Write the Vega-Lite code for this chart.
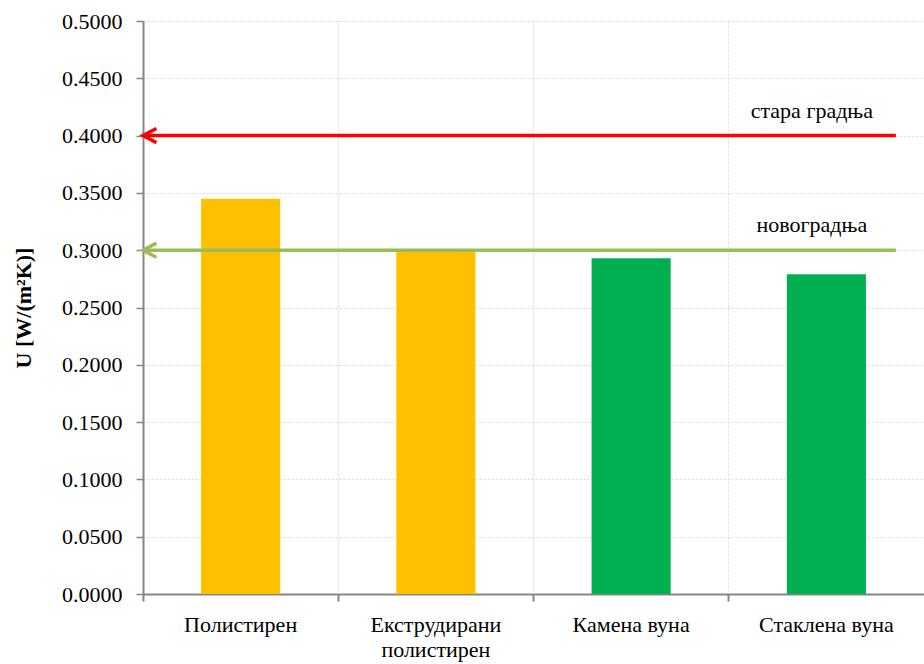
{
  "$schema": "https://vega.github.io/schema/vega-lite/v6.json",
  "width": 781,
  "height": 573,
  "autosize": "none",
  "padding": {"left": 143, "top": 21, "right": 0, "bottom": 70},
  "background": "white",
  "config": {
    "view": {"stroke": null},
    "font": "'Liberation Serif', 'Times New Roman', serif"
  },
  "datasets": {
    "bars": [
      {"material": "Полистирен", "U": 0.345, "group": "a"},
      {"material": "Екструдирани полистирен", "U": 0.300, "group": "a"},
      {"material": "Камена вуна", "U": 0.293, "group": "b"},
      {"material": "Стаклена вуна", "U": 0.279, "group": "b"}
    ],
    "lines": [
      {"name": "стара градња", "U": 0.4, "start": 0, "end": 0.964},
      {"name": "новоградња", "U": 0.3, "start": 0, "end": 0.964}
    ]
  },
  "layer": [
    {
      "data": {"name": "bars"},
      "mark": {"type": "bar", "width": {"band": 0.405}},
      "encoding": {
        "x": {
          "field": "material", "type": "nominal", "sort": null,
          "scale": {"paddingInner": 0, "paddingOuter": 0},
          "axis": {
            "title": null, "labelAngle": 0, "bandPosition": 0,
            "labelFont": "'Liberation Serif', 'Times New Roman', serif", "labelFontSize": 22, "labelColor": "black",
            "labelPadding": 13, "labelBaseline": "top", "labelLineHeight": 25,
            "labelExpr": "datum.label == 'Екструдирани полистирен' ? ['Екструдирани', 'полистирен'] : datum.label",
            "domainColor": "#868686", "domainWidth": 2,
            "tickColor": "#868686", "tickSize": 7, "tickWidth": 2,
            "grid": true, "gridColor": "#d9d9d9", "gridDash": [2, 2], "gridWidth": 1
          }
        },
        "y": {
          "field": "U", "type": "quantitative",
          "scale": {"domain": [0, 0.5], "nice": false},
          "axis": {
            "title": "U [W/(m²K)]", "titleFont": "'Liberation Serif', 'Times New Roman', serif", "titleFontSize": 22,
            "titleFontWeight": "bold", "titleColor": "black", "titlePadding": 26,
            "values": [0, 0.05, 0.1, 0.15, 0.2, 0.25, 0.3, 0.35, 0.4, 0.45, 0.5],
            "format": ".4f",
            "labelFont": "'Liberation Serif', 'Times New Roman', serif", "labelFontSize": 22, "labelColor": "black",
            "labelPadding": 14,
            "domainColor": "#868686", "domainWidth": 2,
            "tickColor": "#868686", "tickSize": 7, "tickWidth": 1.5,
            "grid": true, "gridColor": "#d9d9d9", "gridDash": [2, 2], "gridWidth": 1
          }
        },
        "color": {
          "field": "group", "type": "nominal",
          "scale": {"domain": ["a", "b"], "range": ["#FFC000", "#00B050"]},
          "legend": null
        }
      }
    },
    {
      "data": {"name": "lines"},
      "layer": [
        {
          "mark": {"type": "rule", "strokeWidth": 3.5},
          "encoding": {
            "x": {"field": "start", "type": "quantitative", "scale": {"domain": [0, 1], "nice": false}, "axis": null},
            "x2": {"field": "end"},
            "y": {"field": "U", "type": "quantitative"},
            "color": {"field": "name", "type": "nominal", "scale": {"domain": ["стара градња", "новоградња"], "range": ["#FF0000", "#9BBB59"]}, "legend": null}
          }
        },
        {
          "mark": {"type": "point", "shape": "M1.9,-1 L0,0 L1.9,1", "size": 200, "filled": false, "strokeWidth": 3.5, "opacity": 1},
          "encoding": {
            "x": {"field": "start", "type": "quantitative", "scale": {"domain": [0, 1], "nice": false}, "axis": null},
            "y": {"field": "U", "type": "quantitative"},
            "color": {"field": "name", "type": "nominal", "scale": {"domain": ["стара градња", "новоградња"], "range": ["#FF0000", "#9BBB59"]}, "legend": null}
          }
        },
        {
          "mark": {"type": "text", "font": "'Liberation Serif', 'Times New Roman', serif", "fontSize": 22, "color": "black", "align": "center", "baseline": "middle", "dx": -84, "dy": -25},
          "encoding": {
            "x": {"field": "end", "type": "quantitative", "scale": {"domain": [0, 1], "nice": false}, "axis": null},
            "y": {"field": "U", "type": "quantitative"},
            "text": {"field": "name"}
          }
        }
      ]
    }
  ],
  "resolve": {"scale": {"x": "independent", "color": "independent"}}
}
